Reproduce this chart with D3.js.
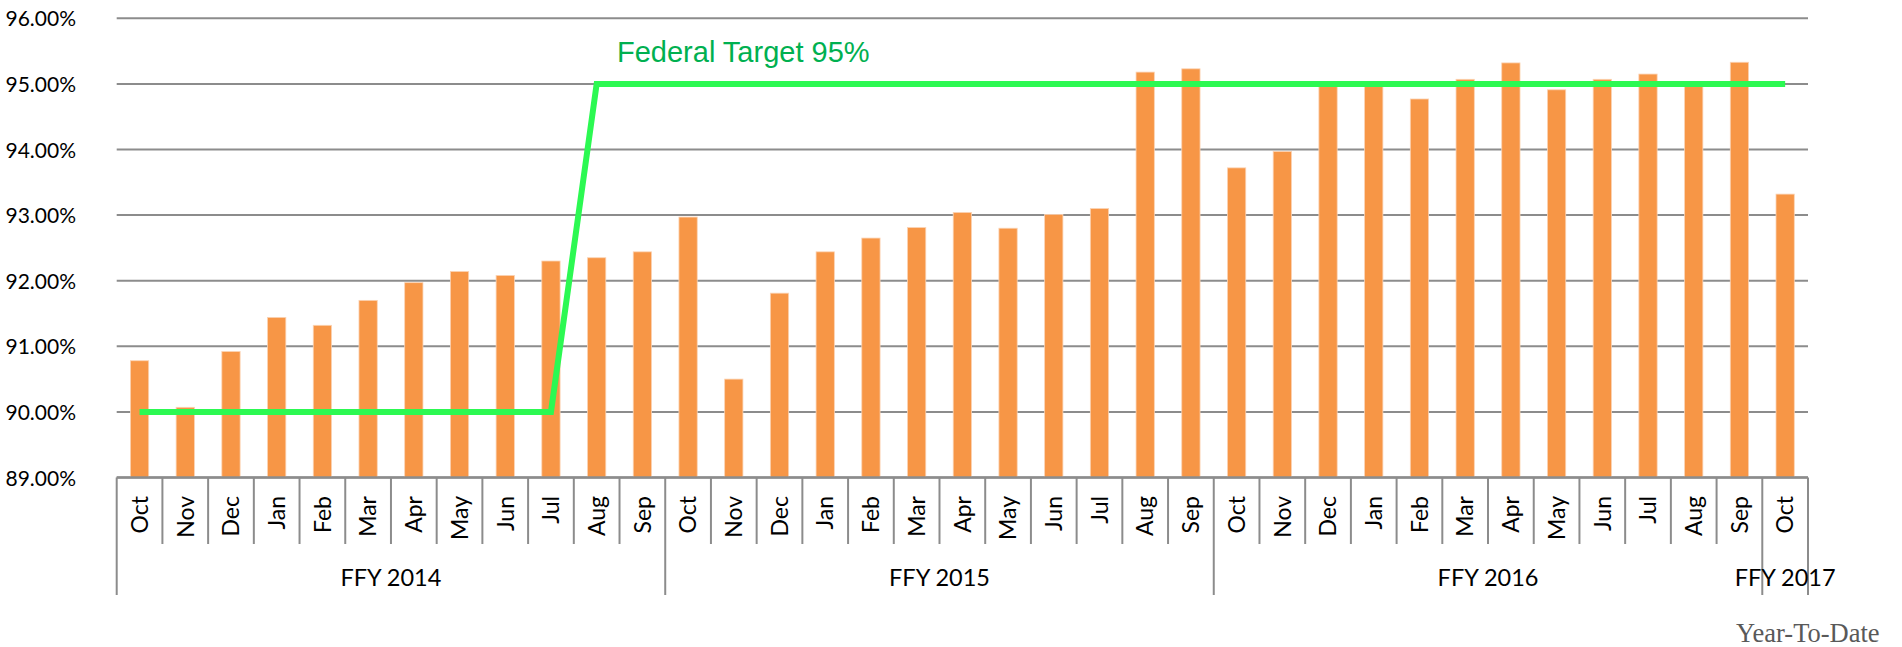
<!DOCTYPE html>
<html>
<head>
<meta charset="utf-8">
<script src="https://cdn.jsdelivr.net/npm/d3@7"></script>
<style>
  html, body { margin: 0; padding: 0; background: #fff; }
  svg { display: block; }
</style>
</head>
<body>
<svg id="chart" width="1902" height="647"></svg>
<script>
// ---- Data ----
const fiscalYears = ["FFY 2014", "FFY 2015", "FFY 2016", "FFY 2017"];
const monthsFY = ["Oct","Nov","Dec","Jan","Feb","Mar","Apr","May","Jun","Jul","Aug","Sep"];
const monthsFFY2017 = ["Oct"];
const values2014 = [90.78, 90.07, 90.92, 91.44, 91.32, 91.70, 91.97, 92.14, 92.08, 92.30, 92.35, 92.44];
const values2015 = [92.97, 90.50, 91.81, 92.44, 92.65, 92.81, 93.04, 92.80, 93.01, 93.10, 95.18, 95.23];
const values2016 = [93.72, 93.97, 95.00, 95.00, 94.77, 95.07, 95.32, 94.91, 95.07, 95.15, 95.00, 95.33];
const values2017 = [93.32];
const targetValues = [90,90,90,90,90,90,90,90,90,90,95,95,
                      95,95,95,95,95,95,95,95,95,95,95,95,
                      95,95,95,95,95,95,95,95,95,95,95,95,
                      95];
const yTicks = [89, 90, 91, 92, 93, 94, 95, 96];
const targetLabel = "Federal Target 95%";
const footnote = "Year-To-Date";

(function () {
// ---- Build rows ----
const groups = [
  { fy: fiscalYears[0], months: monthsFY, values: values2014 },
  { fy: fiscalYears[1], months: monthsFY, values: values2015 },
  { fy: fiscalYears[2], months: monthsFY, values: values2016 },
  { fy: fiscalYears[3], months: monthsFFY2017, values: values2017 }
];
const rows = [];
groups.forEach((g, gi) => {
  g.months.forEach((m, mi) => {
    rows.push({ key: String(rows.length), month: m, fy: g.fy, group: gi, value: g.values[mi] });
  });
});
rows.forEach((r, i) => r.target = targetValues[i]);

// ---- Layout ----
const svg = d3.select("#chart");
const plotL = 116.7, plotR = 1808, plotT = 18.3, plotB = 477.5;

const x = d3.scaleBand()
  .domain(rows.map(r => r.key))
  .range([plotL, plotR])
  .paddingInner(0.6)
  .paddingOuter(0.3);
const y = d3.scaleLinear().domain([89, 96]).range([plotB, plotT]);
const step = x.step();
const cx = k => x(k) + x.bandwidth() / 2;

const gridColor = "#8c8c8c";

// gridlines
svg.append("g")
  .selectAll("line")
  .data(yTicks)
  .join("line")
  .attr("x1", plotL).attr("x2", plotR)
  .attr("y1", d => y(d)).attr("y2", d => y(d))
  .attr("stroke", gridColor)
  .attr("stroke-width", 2);

// y labels via axis
const yAxis = d3.axisLeft(y)
  .tickValues(yTicks)
  .tickFormat(d => d.toFixed(2) + "%")
  .tickSize(0)
  .tickPadding(0);
const yg = svg.append("g").attr("transform", `translate(76,0)`).call(yAxis);
yg.select(".domain").remove();
yg.selectAll("text")
  .attr("font-family", "Lato, 'Liberation Sans', sans-serif")
  .attr("font-size", 21)
  .attr("fill", "#000")
  .attr("dy", "0.36em");

// bars
svg.append("g")
  .selectAll("rect")
  .data(rows)
  .join("rect")
  .attr("x", d => x(d.key))
  .attr("width", x.bandwidth())
  .attr("y", d => y(d.value))
  .attr("height", d => y(89) - y(d.value))
  .attr("fill", "#f79646")
  .attr("stroke", "#fbd3b4")
  .attr("stroke-width", 0.8);

// category separators
const boundaries = d3.range(rows.length + 1);
const groupBounds = new Set([0, 12, 24, 36, 37]);
svg.append("g")
  .selectAll("line")
  .data(boundaries)
  .join("line")
  .attr("x1", i => plotL + i * step).attr("x2", i => plotL + i * step)
  .attr("y1", plotB)
  .attr("y2", i => groupBounds.has(i) ? 595 : 544)
  .attr("stroke", gridColor)
  .attr("stroke-width", 2);

// axis line
svg.append("line")
  .attr("x1", plotL).attr("x2", plotR)
  .attr("y1", y(89)).attr("y2", y(89))
  .attr("stroke", gridColor)
  .attr("stroke-width", 2.5);

// month labels
svg.append("g")
  .selectAll("text")
  .data(rows)
  .join("text")
  .attr("transform", d => `translate(${cx(d.key)},496) rotate(-90)`)
  .attr("text-anchor", "end")
  .attr("dy", "0.36em")
  .attr("font-family", "Lato, 'Liberation Sans', sans-serif")
  .attr("font-size", 23)
  .attr("fill", "#000")
  .text(d => d.month);

// group labels
const groupInfo = groups.map((g, gi) => {
  const gr = rows.filter(r => r.group === gi);
  const a = x(gr[0].key), b = x(gr[gr.length - 1].key) + x.bandwidth();
  return { fy: g.fy, center: (a + b) / 2 };
});
svg.append("g")
  .selectAll("text")
  .data(groupInfo)
  .join("text")
  .attr("x", d => d.center)
  .attr("y", 586)
  .attr("text-anchor", "middle")
  .attr("font-family", "Lato, 'Liberation Sans', sans-serif")
  .attr("font-size", 23.5)
  .attr("fill", "#000")
  .text(d => d.fy);

// target line
const line = d3.line().x(d => cx(d.key)).y(d => y(d.target));
svg.append("path")
  .datum(rows)
  .attr("d", line)
  .attr("fill", "none")
  .attr("stroke", "#2cf952")
  .attr("stroke-width", 6)
  .attr("stroke-linejoin", "miter");

// target label
svg.append("text")
  .attr("x", 617)
  .attr("y", 61.7)
  .attr("font-family", "'Liberation Sans', Arial, sans-serif")
  .attr("font-size", 29)
  .attr("fill", "#00b050")
  .text(targetLabel);

// footnote
svg.append("text")
  .attr("x", 1736)
  .attr("y", 641.5)
  .attr("font-family", "'Liberation Serif', 'Times New Roman', serif")
  .attr("font-size", 26.5)
  .attr("fill", "#595959")
  .text(footnote);
})();
</script>
</body>
</html>
